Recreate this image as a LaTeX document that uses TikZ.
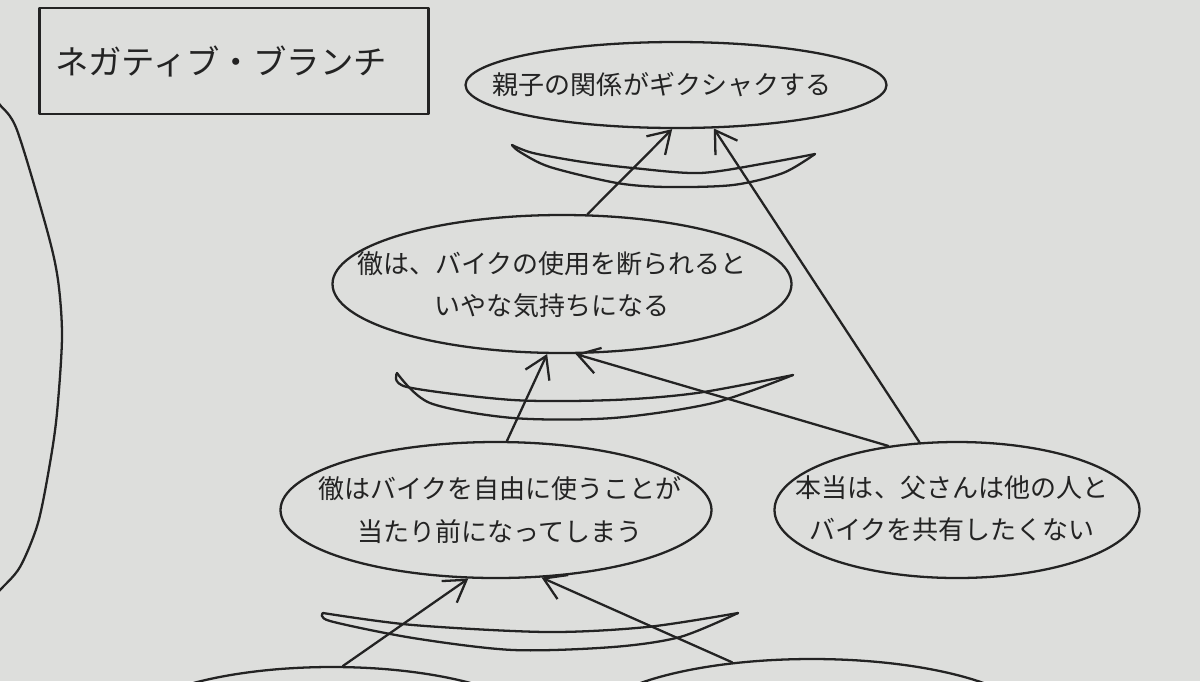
\documentclass[tikz,border=0pt]{standalone}
\usepackage{fontspec}
\newfontfamily\jp{Noto Sans CJK JP}
\usetikzlibrary{shapes.geometric,arrows.meta}
\newlength\pxu
\setlength\pxu{0.02cm}
\definecolor{paper}{RGB}{221,222,220}
\definecolor{pencil}{RGB}{35,35,35}
\begin{document}
\begin{tikzpicture}[x=0.02cm,y=-0.02cm,
  pen/.style={draw=pencil, line width=1.3pt, line cap=round, line join=round},
  oval/.style={pen, ellipse, inner sep=0pt},
  txt/.style={text=pencil, font=\jp\fontsize{14.8pt}{24pt}\selectfont, align=center, inner sep=0pt},
  arr/.style={pen, -{Straight Barb[length=12pt,width=15pt]}}]
\useasboundingbox (0,0) rectangle (1200,681);
\clip (0,0) rectangle (1200,681);
\fill[paper] (0,0) rectangle (1200,681);

% left big curve
\draw[pen] plot[smooth] coordinates {(-5,98) (0,105) (17,130) (47,230) (58,280) (62,337) (57,413) (50,463) (38,523) (20,567) (0,590) (-5,596)};

% title box
\node[pen, rectangle, minimum width=389\pxu, minimum height=106\pxu, inner sep=0pt, text=pencil,
      font=\jp\fontsize{19pt}{19pt}\selectfont] (title) at (234,61) {ネガティブ・ブランチ\hspace*{26\pxu}};

% ovals
\node[oval, minimum width=421\pxu, minimum height=86\pxu] (e1) at (676,85) {};
\node[oval, minimum width=459\pxu, minimum height=138\pxu] (e2) at (562,284) {};
\node[oval, minimum width=431\pxu, minimum height=136\pxu] (e3) at (496,510) {};
\node[oval, minimum width=365\pxu, minimum height=136\pxu] (e4) at (957,510) {};
\node[oval, minimum width=430\pxu, minimum height=136\pxu] (b1) at (332,735) {};
\node[oval, minimum width=450\pxu, minimum height=136\pxu] (b2) at (812,727) {};

% texts
\node[txt] (t1) at (662,85) {親子の関係がギクシャクする};
\node[txt] (t2) at (552,285) {徹は、バイクの使用を断られると\\いやな気持ちになる};
\node[txt] (t3) at (500,510) {徹はバイクを自由に使うことが\\当たり前になってしまう};
\node[txt] (t4) at (952,509) {本当は、父さんは他の人と\\バイクを共有したくない};

% bananas
\draw[pen] plot[smooth] coordinates {(512,145) (533,153) (583,162) (633,168) (700,173) (767,163) (815,154)};
\draw[pen] plot[smooth] coordinates {(512,145) (520,152) (550,167) (617,183) (667,187) (733,185) (783,173) (815,154)};

\draw[pen] plot[smooth] coordinates {(397,373) (407,387) (513,400) (613,400) (697,393) (793,375)};
\draw[pen] plot[smooth] coordinates {(397,373) (430,403) (513,418) (613,418) (713,403) (793,375)};

\draw[pen] plot[smooth] coordinates {(323,613) (413,625) (547,632) (647,627) (738,613)};
\draw[pen] plot[smooth] coordinates {(323,613) (330,621) (413,638) (513,650) (613,647) (680,637) (738,613)};

% arrows
\draw[arr] (e2.70) -- (e1.265);
\draw[arr] (e4.119) -- (e1.311);
\draw[arr] (e3.81) -- (e2.258);
\draw[arr] (e4.137) -- (e2.281);
\draw[arr] (b1.81) -- (e3.248);
\draw[arr] (b2.141) -- (e3.304);
\end{tikzpicture}
\end{document}
